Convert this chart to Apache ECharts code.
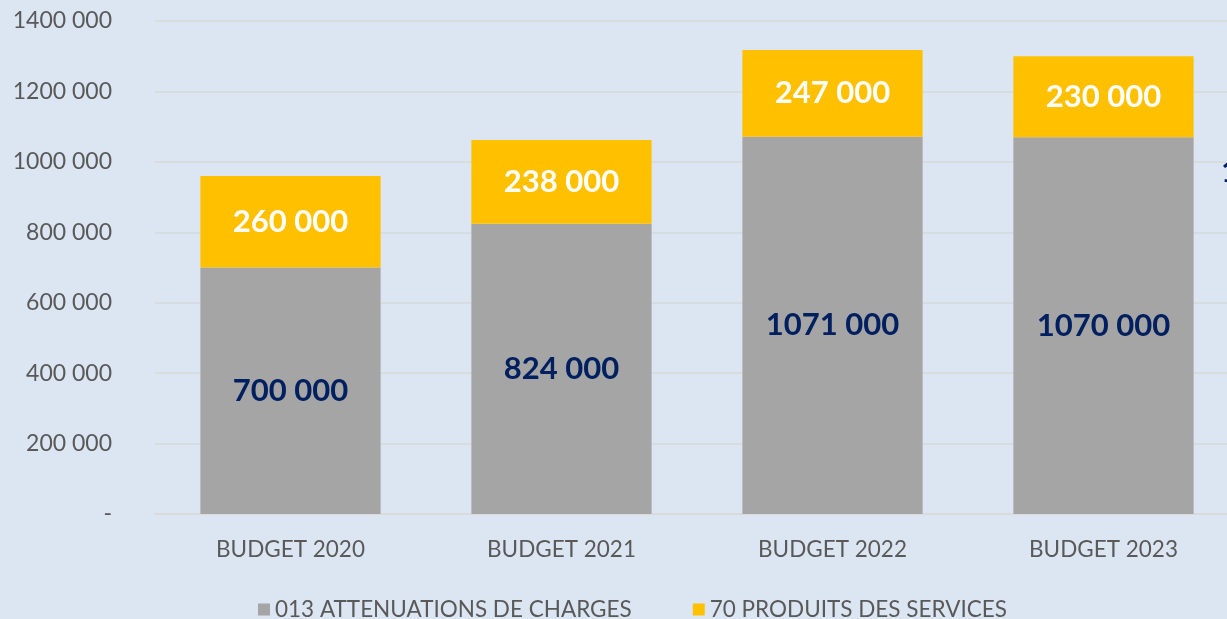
<!DOCTYPE html>
<html>
<head>
<meta charset="utf-8">
<script src="https://cdn.jsdelivr.net/npm/echarts@6/dist/echarts.min.js"></script>
<style>
html,body{margin:0;padding:0;background:#dce6f2;overflow:hidden;}
#c{width:1239px;height:619px;}
</style>
</head>
<body>
<div id="c"></div>
<script>
var categories = ['BUDGET 2020', 'BUDGET 2021', 'BUDGET 2022', 'BUDGET 2023'];
var attenuations = [700000, 824000, 1071000, 1070000];
var produits = [260000, 238000, 247000, 230000];
var seriesNames = ['013 ATTENUATIONS DE CHARGES', '70 PRODUITS DES SERVICES'];

function fmt(v) {
  if (v === 0) return '-';
  var k = Math.floor(v / 1000);
  var r = String(v % 1000);
  while (r.length < 3) r = '0' + r;
  return k + ' ' + r;
}

var FONT = 'Lato';
var chart = echarts.init(document.getElementById('c'));
chart.setOption({
  backgroundColor: '#dce6f2',
  animation: false,
  textStyle: { fontFamily: FONT },
  grid: { left: 155, right: 0, top: 21, height: 493, containLabel: false },
  legend: {
    top: 593,
    left: 253,
    itemWidth: 12,
    itemHeight: 12,
    itemGap: 61,
    icon: 'rect',
    textStyle: { fontFamily: FONT, fontSize: 22.5, color: '#595959', padding: [0, 0, 0, 0] },
    data: seriesNames
  },
  xAxis: {
    type: 'category',
    data: categories,
    axisLine: { show: true, lineStyle: { color: '#d9d9d9', width: 1.5 } },
    axisTick: { show: false },
    axisLabel: { fontFamily: FONT, fontSize: 22.5, color: '#595959', margin: 24 }
  },
  yAxis: {
    type: 'value',
    min: 0,
    max: 1400000,
    interval: 200000,
    axisLine: { show: false },
    axisTick: { show: false },
    splitLine: { lineStyle: { color: '#d9d9d9', width: 1.5 } },
    axisLabel: {
      fontFamily: FONT, fontSize: 23, color: '#595959', margin: 43,
      formatter: fmt
    }
  },
  series: [
    {
      name: seriesNames[0],
      type: 'bar',
      stack: 'total',
      barWidth: '66.5%',
      data: attenuations,
      itemStyle: { color: '#a5a5a5' },
      label: {
        show: true, position: 'inside', formatter: function (p) { return fmt(p.value); },
        fontFamily: FONT, fontWeight: 'bold', fontSize: 31, color: '#002060'
      }
    },
    {
      name: seriesNames[1],
      type: 'bar',
      stack: 'total',
      data: produits,
      itemStyle: { color: '#ffc000' },
      label: {
        show: true, position: 'inside', formatter: function (p) { return fmt(p.value); },
        fontFamily: FONT, fontWeight: 'bold', fontSize: 31, color: '#ffffff'
      }
    }
  ],
  graphic: [
    {
      type: 'text', left: 1221, top: 156,
      style: { text: '1', fontFamily: FONT, fontWeight: 'bold', fontSize: 31, fill: '#002060' }
    }
  ]
});
</script>
</body>
</html>
